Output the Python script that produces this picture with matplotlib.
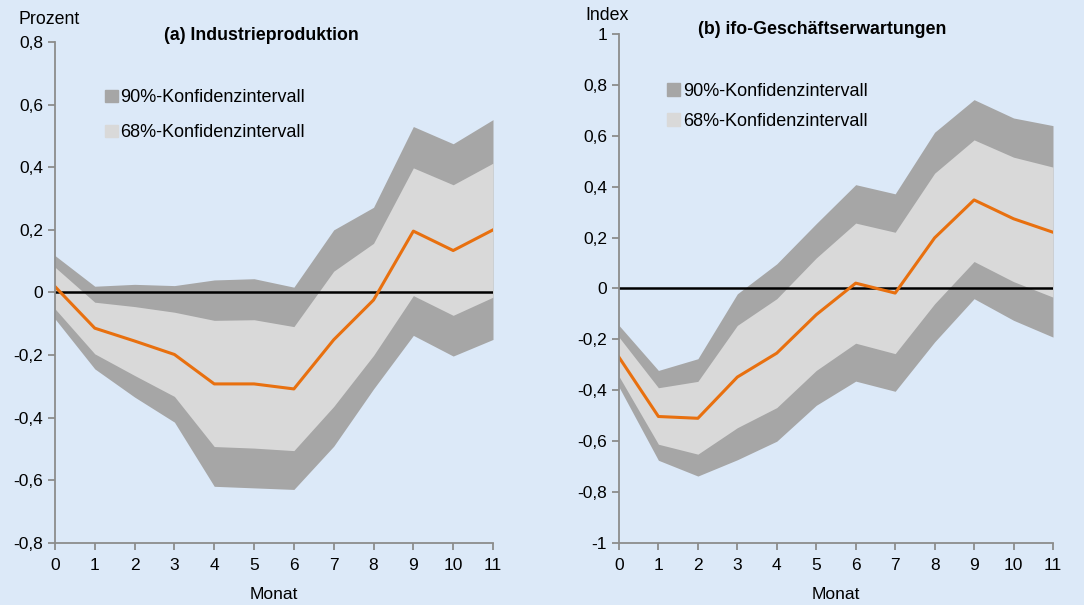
import numpy as np
import matplotlib.pyplot as plt
from matplotlib.patches import Patch

plt.rcParams['font.family'] = ['Liberation Sans', 'DejaVu Sans']

monate = np.arange(12)

# (a) Industrieproduktion
ip_mitte = [0.019, -0.114, -0.155, -0.198, -0.292, -0.292, -0.308, -0.151, -0.024, 0.196, 0.134, 0.200]
ip_o68 = [0.081, -0.031, -0.045, -0.063, -0.089, -0.087, -0.109, 0.068, 0.157, 0.398, 0.344, 0.413]
ip_u68 = [-0.052, -0.196, -0.265, -0.332, -0.492, -0.497, -0.505, -0.364, -0.201, -0.010, -0.073, -0.015]
ip_o90 = [0.118, 0.020, 0.026, 0.022, 0.040, 0.044, 0.017, 0.200, 0.272, 0.530, 0.475, 0.552]
ip_u90 = [-0.084, -0.244, -0.334, -0.414, -0.619, -0.624, -0.629, -0.491, -0.308, -0.137, -0.203, -0.150]

# (b) ifo-Geschäftserwartungen
ifo_mitte = [-0.270, -0.503, -0.510, -0.348, -0.254, -0.103, 0.021, -0.018, 0.199, 0.348, 0.274, 0.221]
ifo_o68 = [-0.191, -0.390, -0.365, -0.145, -0.040, 0.120, 0.257, 0.221, 0.453, 0.584, 0.516, 0.477]
ifo_u68 = [-0.345, -0.612, -0.651, -0.547, -0.468, -0.322, -0.215, -0.256, -0.060, 0.106, 0.027, -0.034]
ifo_o90 = [-0.145, -0.322, -0.276, -0.021, 0.097, 0.255, 0.408, 0.372, 0.614, 0.742, 0.670, 0.640]
ifo_u90 = [-0.387, -0.675, -0.737, -0.673, -0.600, -0.459, -0.364, -0.404, -0.210, -0.040, -0.125, -0.191]

bg = '#dce9f8'
dunkel = '#a6a6a6'
hell = '#d9d9d9'
orange = '#e8700f'
grau = '#8c8c8c'

W, H = 1084, 605


def komma(v):
    s = ('%.1f' % v).replace('.', ',')
    if s.endswith(',0'):
        s = s[:-2]
    if s == '-0':
        s = '0'
    return s


def panel(ax, mitte, o68, u68, o90, u90, ylim, yticks, leg_pos, leg_abstand):
    ax.set_facecolor(bg)
    ax.fill_between(monate, u90, o90, color=dunkel, lw=0)
    ax.fill_between(monate, u68, o68, color=hell, lw=0)
    ax.axhline(0, color='black', lw=1.8)
    ax.plot(monate, mitte, color=orange, lw=2.2)
    ax.set_xlim(0, 11)
    ax.set_ylim(*ylim)
    ax.set_xticks(monate)
    ax.set_yticks(yticks)
    ax.set_yticklabels([komma(v) for v in yticks])
    for s in ['top', 'right']:
        ax.spines[s].set_visible(False)
    for s in ['left', 'bottom']:
        ax.spines[s].set_color(grau)
        ax.spines[s].set_linewidth(1.3)
    ax.tick_params(colors=grau, labelcolor='black', labelsize=12.5, length=5, width=1.3)
    ax.tick_params(axis='x', pad=6)
    ax.set_xlabel('Monat', fontsize=12.5, labelpad=10)
    handles = [Patch(color=dunkel, label='90%-Konfidenzintervall'),
               Patch(color=hell, label='68%-Konfidenzintervall')]
    ax.legend(handles=handles, loc='upper left', bbox_to_anchor=leg_pos, frameon=False,
              fontsize=13, handlelength=0.7, handleheight=0.7, handletextpad=0.15,
              labelspacing=leg_abstand, borderaxespad=0)


fig = plt.figure(figsize=(10.84, 6.05), dpi=100, facecolor=bg)
ax1 = fig.add_axes([0.0507, 0.1025, 0.4041, 0.8281])
ax2 = fig.add_axes([0.5710, 0.1025, 0.4004, 0.8413])

panel(ax1, ip_mitte, ip_o68, ip_u68, ip_o90, ip_u90, (-0.8, 0.8),
      [-0.8, -0.6, -0.4, -0.2, 0, 0.2, 0.4, 0.6, 0.8], (0.098, 0.92), 1.0)
panel(ax2, ifo_mitte, ifo_o68, ifo_u68, ifo_o90, ifo_u90, (-1, 1),
      [-1, -0.8, -0.6, -0.4, -0.2, 0, 0.2, 0.4, 0.6, 0.8, 1], (0.095, 0.918), 0.7)

fig.text(261 / W, 1 - 35 / H, '(a) Industrieproduktion', fontsize=12.8,
         fontweight='bold', ha='center', va='center')
fig.text(822 / W, 1 - 29 / H, '(b) ifo-Geschäftserwartungen', fontsize=12.8,
         fontweight='bold', ha='center', va='center')
fig.text(18 / W, 1 - 19 / H, 'Prozent', fontsize=12.8, ha='left', va='center')
fig.text(585 / W, 1 - 15 / H, 'Index', fontsize=12.8, ha='left', va='center')

fig.savefig('out.png', dpi=100, facecolor=bg)
